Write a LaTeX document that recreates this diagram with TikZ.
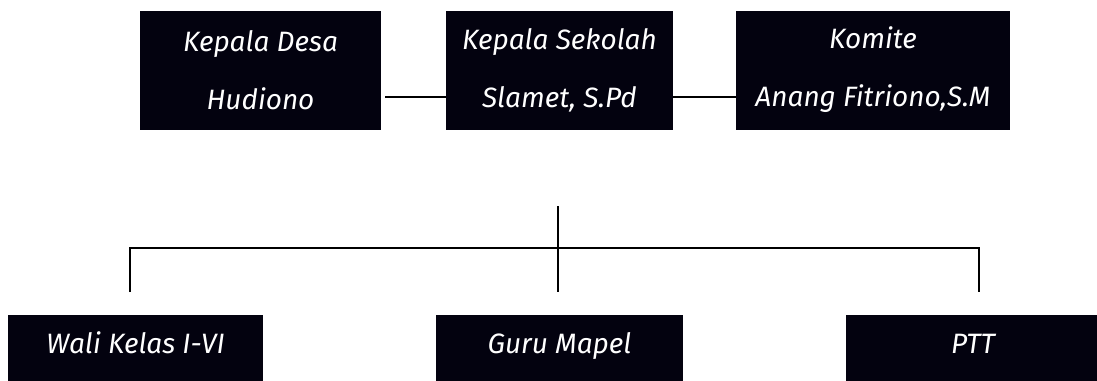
\documentclass[tikz,border=0pt]{standalone}
\usepackage{fontspec}
\setmainfont{Fira Sans}
\definecolor{boxfill}{RGB}{3,2,15}

\begin{document}
\begin{tikzpicture}[x=0.5pt, y=-0.5pt,
  box/.style={rectangle, fill=boxfill, text=white, inner sep=0pt,
    align=center, font=\itshape\fontsize{14}{29}\selectfont},
  line/.style={line width=0.8pt}]
  \clip (0,0) rectangle (1097,380);
  \node (desa)   [box, minimum width=120.5pt, minimum height=59.5pt] at (260.5,70.5) {Kepala Desa\\Hudiono};
  \node (kepsek) [box, minimum width=113.5pt, minimum height=59.5pt] at (559.5,70.5) {Kepala Sekolah\\Slamet, S.Pd};
  \node (komite) [box, minimum width=137pt, minimum height=59.5pt] at (873,70) {Komite\\Anang Fitriono,S.M};
  \node (wali)   [box, minimum width=127.5pt, minimum height=35pt, text height=12pt, text depth=9pt] at (135.5,350) {Wali Kelas I-VI};
  \node (guru)   [box, minimum width=123.5pt, minimum height=35pt, text height=12pt, text depth=9pt] at (559.5,350) {Guru Mapel};
  \node (ptt)    [box, minimum width=127pt, minimum height=35pt, text height=12pt, text depth=9pt] at (973,350) {PTT};
  \coordinate (top)   at (558,206);
  \coordinate (bar)   at (558,248);
  \coordinate (barl)  at (130,248);
  \coordinate (barr)  at (979,248);
  \coordinate (downl) at (130,292);
  \coordinate (downm) at (558,292);
  \coordinate (downr) at (979,292);
  \draw [line, shorten <=2pt] ([yshift=-13.25pt]desa.east) -- ([yshift=-13.25pt]kepsek.west);
  \draw [line] ([yshift=-13.25pt]kepsek.east) -- ([yshift=-13.5pt]komite.west);
  \draw [line] (top) -- (downm);
  \draw [line] (downl) -- (barl) -- (barr) -- (downr);
\end{tikzpicture}
\end{document}
